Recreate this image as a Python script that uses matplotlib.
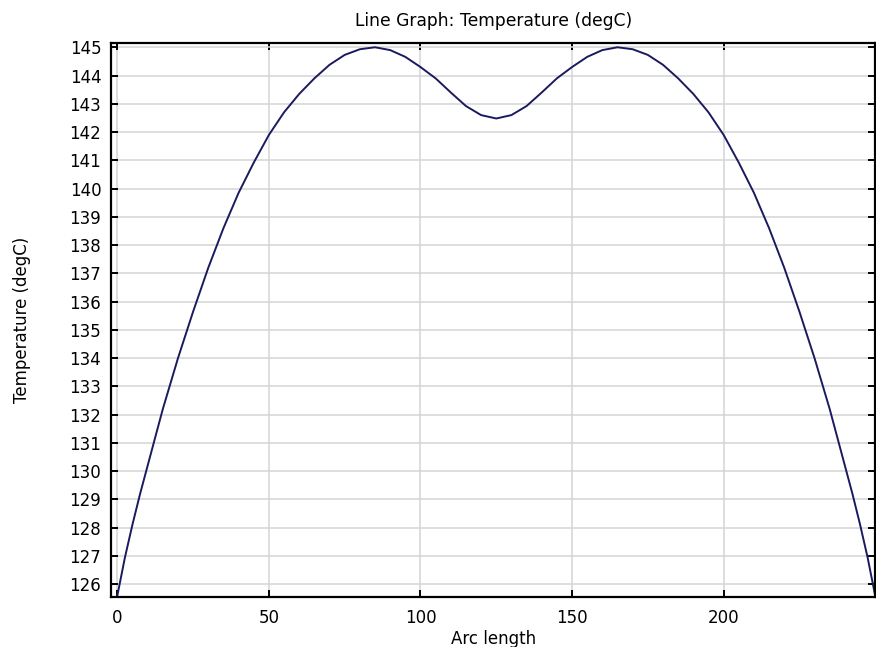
import matplotlib
matplotlib.use("Agg")
import matplotlib.pyplot as plt

# arc length along the line and temperature
arc_length = [0, 2.5, 5, 7.5, 10, 15, 20, 25, 30, 35, 40, 45, 50, 55, 60, 65,
              70, 75, 80, 85, 90, 95, 100, 105, 110, 115, 120, 125,
              130, 135, 140, 145, 150, 155, 160, 165, 170, 175, 180, 185,
              190, 195, 200, 205, 210, 215, 220, 225, 230, 235, 240, 242.5,
              245, 247.5, 250]
temperature = [125.6, 126.95, 128.12, 129.2, 130.2, 132.2, 134.0, 135.65,
               137.2, 138.6, 139.85, 140.92, 141.9, 142.7, 143.35, 143.9,
               144.38, 144.73, 144.93, 145.0, 144.9, 144.66, 144.3, 143.9,
               143.4, 142.92, 142.6, 142.48,
               142.6, 142.92, 143.4, 143.9, 144.3, 144.66, 144.9, 145.0,
               144.93, 144.73, 144.38, 143.9, 143.35, 142.7, 141.9, 140.92,
               139.85, 138.6, 137.2, 135.65, 134.0, 132.2, 130.2, 129.2,
               128.12, 126.95, 125.6]

x_ticks = [0, 50, 100, 150, 200]
y_ticks = list(range(126, 146))

fig = plt.figure(figsize=(8.76, 6.47), dpi=100)
ax = fig.add_axes([0.1267, 0.0773, 0.8727, 0.8562])

ax.plot(arc_length, temperature, color='#1a1a5e', lw=1.4)

ax.set_xlim(-2.1, 250.1)
ax.set_ylim(125.55, 145.15)
ax.set_xticks(x_ticks)
ax.set_yticks(y_ticks)
ax.grid(True, color='#d4d4d4', lw=1.1)
ax.set_axisbelow(True)

ax.tick_params(direction='in', top=True, right=True, length=5, width=1.4,
               labelsize=12, colors='black')
ax.tick_params(axis='y', pad=7)
ax.tick_params(axis='x', pad=9)
for s in ax.spines.values():
    s.set_linewidth(1.6)
    s.set_color('black')

ax.set_xlabel('Arc length', fontsize=12, labelpad=2)
ax.set_ylabel('Temperature (degC)', fontsize=12, labelpad=28)
ax.set_title('Line Graph: Temperature (degC)', fontsize=12.3, pad=12)

fig.savefig('out.png', dpi=100, facecolor='white')
